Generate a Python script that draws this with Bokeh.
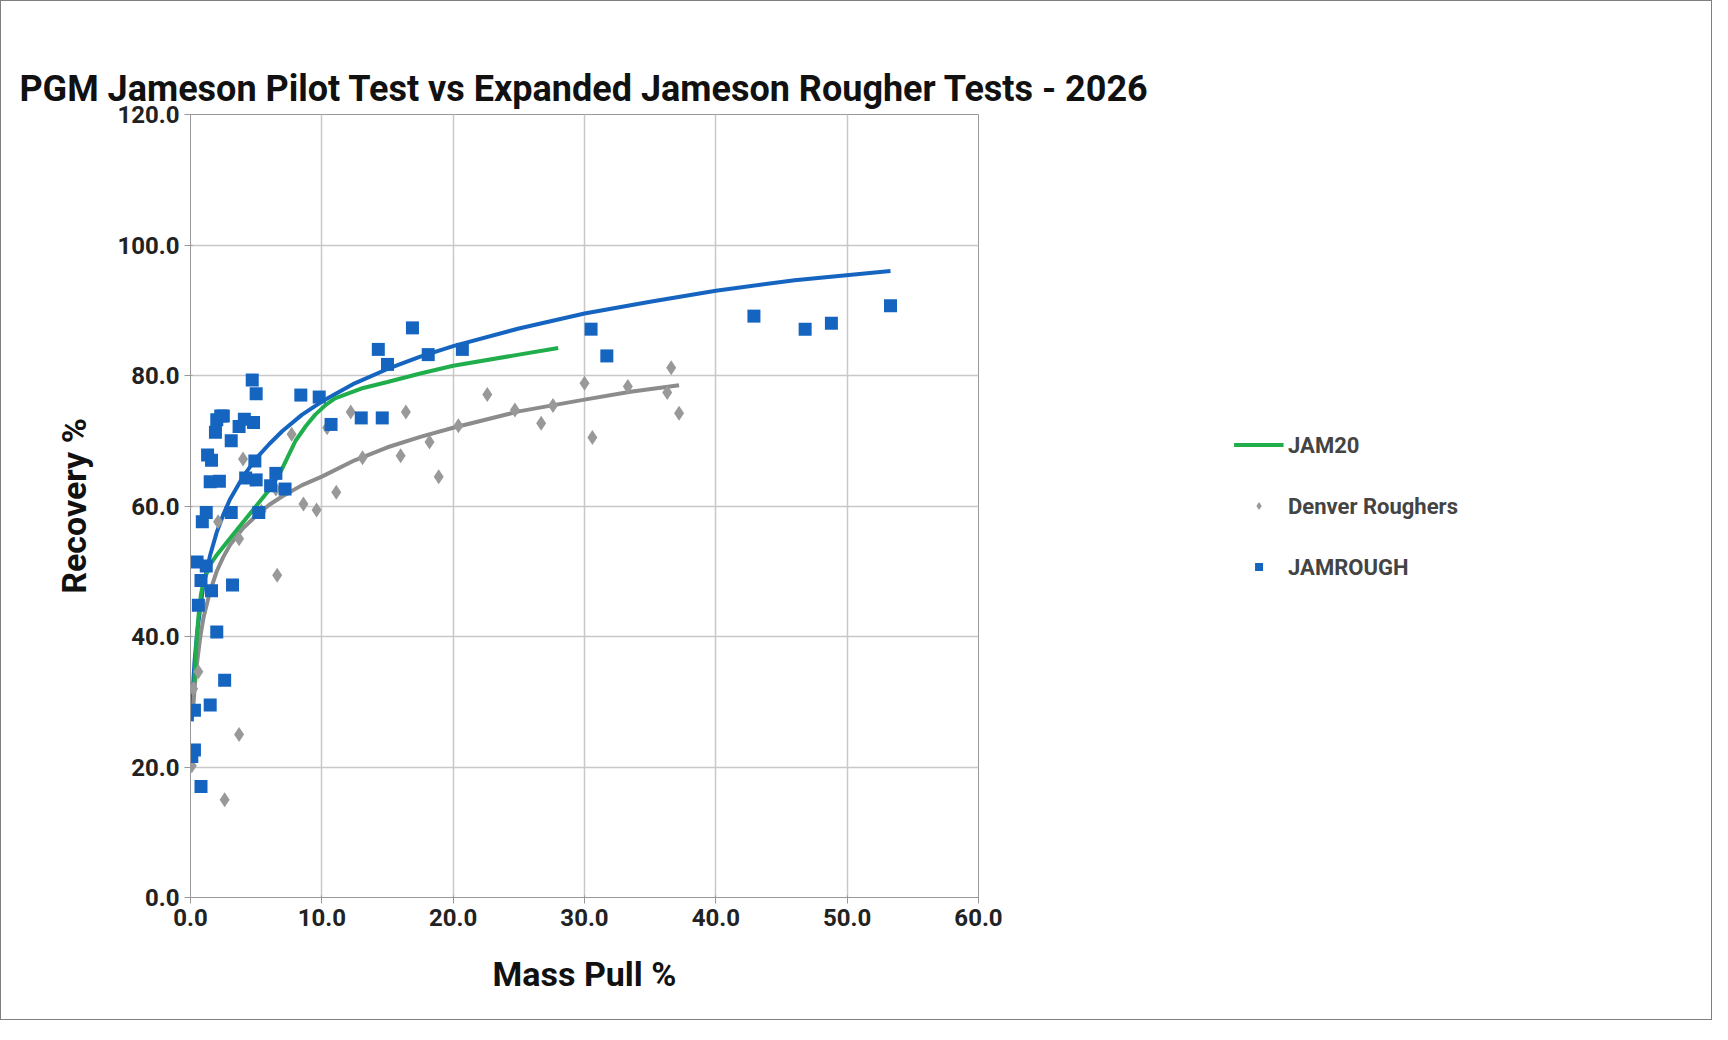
from bokeh.plotting import figure
from bokeh.models import Legend, LegendItem, NumeralTickFormatter, FixedTicker, Range1d
from bokeh.embed import file_html
from bokeh.resources import INLINE

jam_x = [0.1,0.3,0.3,0.8,0.5,0.6,0.8,0.9,1.2,1.2,1.5,1.3,1.5,1.6,1.6,1.9,2.0,2.2,2.0,2.3,2.5,2.6,3.1,3.1,3.2,3.7,4.1,4.2,4.7,4.8,5.0,4.9,5.0,5.2,6.1,6.5,7.2,8.4,9.8,10.7,13.0,14.3,14.6,15.0,16.9,18.1,20.7,30.5,31.7,42.9,46.8,48.8,53.3]
jam_y = [21.6,28.7,22.6,17.0,51.4,44.8,48.6,57.6,59.0,50.8,29.5,67.8,63.7,67.0,47.0,71.3,73.2,63.8,40.7,73.8,73.8,33.3,70.0,59.0,47.9,72.2,73.3,64.3,79.3,72.8,77.2,66.9,64.0,59.0,63.1,65.0,62.6,77.0,76.7,72.5,73.5,84.0,73.5,81.7,87.3,83.2,84.0,87.1,83.0,89.1,87.1,88.0,90.7]
den_x = [0.1,0.2,0.6,2.1,2.6,3.7,4.0,3.7,5.4,6.6,6.5,7.7,8.6,9.6,10.4,11.1,12.2,13.1,16.0,16.4,18.2,18.9,20.4,22.6,24.7,26.7,27.6,30.0,30.6,33.3,36.3,36.6,37.2]
den_y = [20.2,32.0,34.6,57.6,15.0,55.0,67.2,25.0,59.2,49.4,62.6,71.0,60.3,59.4,72.0,62.1,74.4,67.4,67.7,74.4,69.8,64.5,72.3,77.1,74.7,72.7,75.4,78.8,70.5,78.3,77.4,81.2,74.2]
blue_fit_x = [0.1,0.2,0.3,0.5,0.75,1,1.5,2,2.5,3,4,5,6,7,8.5,10,12.5,15,17.5,20,25,30,35,40,46,53.3]
blue_fit_y = [27,32.5,36,40.5,44.5,48,52.5,56,58.7,61,64.5,67.3,69.5,71.5,74,76,78.8,81,82.9,84.5,87.2,89.5,91.3,93,94.6,96]
gray_fit_x = [0.2,0.35,0.5,0.75,1,1.5,2,2.5,3,4,5,6,7,8.5,10,12.5,15,17.5,20,25,30,33.5,37.2]
gray_fit_y = [29,33,36,40,43,47,50,52.2,54,56.6,58.5,60.2,61.5,63.2,64.5,67,69,70.6,72,74.5,76.3,77.5,78.5]
jam20_x = [0.3,0.45,0.6,0.8,1,1.5,2,3,4,5,6,6.8,7.4,8,8.8,9.5,10.3,11,13,15,17.5,20,25,28]
jam20_y = [33,39,43,46.5,48.5,51,52.5,55,57.5,60,62.5,65,67.5,70,72.3,74,75.5,76.5,78,79,80.3,81.5,83.2,84.2]

p = figure(width=1712, height=1020, output_backend="svg", toolbar_location=None,
           x_range=Range1d(0, 60), y_range=Range1d(0, 120),
           min_border_left=189, min_border_right=30, min_border_top=113, min_border_bottom=124,
           title="PGM Jameson Pilot Test vs Expanded Jameson Rougher Tests - 2026")
p.styles = {"border": "1.5px solid #7f7f7f"}
p.title.align = "center"
p.title.text_font = "Roboto"
p.title.text_font_size = "36px"
p.title.text_font_style = "bold"
p.title.text_color = "#111111"
p.title.offset = 0

l1 = p.line(blue_fit_x, blue_fit_y, line_color="#1565c0", line_width=4)
l2 = p.line(gray_fit_x, gray_fit_y, line_color="#8c8c8c", line_width=4)
l3 = p.line(jam20_x, jam20_y, line_color="#1fae4b", line_width=4)
d = p.scatter(den_x, den_y, marker="diamond", size=15, fill_color="#999999", line_color=None)
s = p.scatter(jam_x, jam_y, marker="square", size=13, fill_color="#1565c0", line_color=None)

for ax, lab in ((p.xaxis[0], "Mass Pull %"), (p.yaxis[0], "Recovery %")):
    ax.axis_label = lab
    ax.axis_label_text_font = "Roboto"
    ax.axis_label_text_font_style = "bold"
    ax.axis_label_text_font_size = "34px"
    ax.axis_label_text_color = "#111111"
    ax.major_label_text_font = "Roboto"
    ax.major_label_text_font_style = "bold"
    ax.major_label_text_font_size = "24px"
    ax.major_label_text_color = "#222222"
    ax.formatter = NumeralTickFormatter(format="0.0")
    ax.axis_line_color = "#999999"
    ax.major_tick_line_color = "#999999"
    ax.minor_tick_line_color = None
p.xaxis.ticker = FixedTicker(ticks=[0,10,20,30,40,50,60])
p.yaxis.ticker = FixedTicker(ticks=[0,20,40,60,80,100,120])
p.xaxis.axis_label_standoff = 25
p.yaxis.axis_label_standoff = 20
p.grid.grid_line_color = "#c8c8c8"
p.grid.grid_line_width = 1.5
p.outline_line_color = "#999999"

legend = Legend(items=[LegendItem(label="JAM20", renderers=[l3]),
                       LegendItem(label="Denver Roughers", renderers=[d]),
                       LegendItem(label="JAMROUGH", renderers=[s])],
                location="center", border_line_color=None, background_fill_alpha=0,
                label_text_font="Roboto", label_text_font_style="bold", label_text_font_size="22px",
                spacing=36, glyph_width=50, margin=30)
p.add_layout(legend, "right")

open("out.html", "w").write(file_html(p, INLINE))
